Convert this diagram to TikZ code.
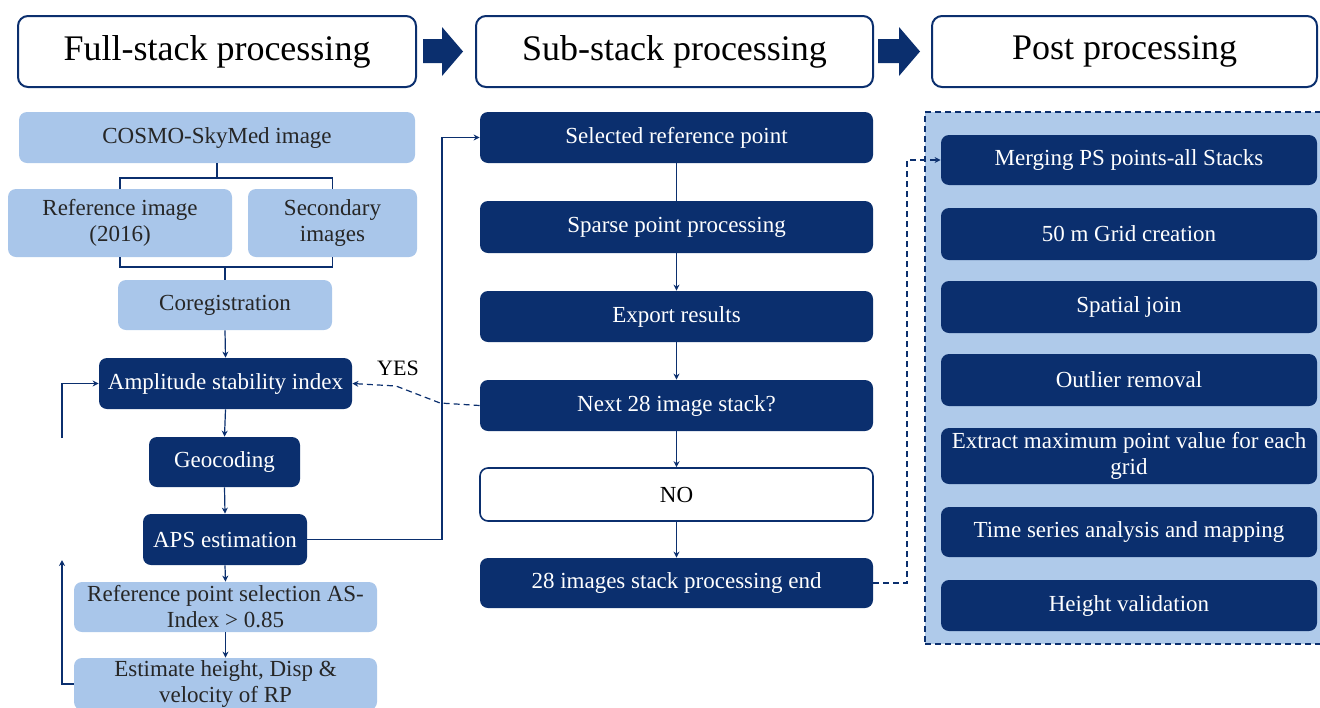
\documentclass[tikz,border=0pt]{standalone}
\usepackage{fontspec}
\setmainfont{Liberation Serif}
\usetikzlibrary{arrows.meta}
\definecolor{navy}{HTML}{0B2F6E}
\definecolor{lblue}{HTML}{A9C6EA}
\definecolor{cblue}{HTML}{AFCAEA}
\begin{document}
\begin{tikzpicture}[x=0.5pt,y=-0.5pt,
  hdr/.style={draw=navy, line width=1pt, rounded corners=5pt, fill=white, font=\fontsize{18}{22}\selectfont, minimum height=35.5pt, inner sep=0pt},
  lbox/.style={fill=lblue, rounded corners=4pt, font=\fontsize{11.5}{13}\selectfont, text=black!85, align=center, inner sep=0pt},
  dbox/.style={fill=navy, rounded corners=4pt, font=\fontsize{11.5}{13}\selectfont, text=white, align=center, inner sep=0pt},
  wbox/.style={draw=navy, line width=0.8pt, fill=white, rounded corners=4pt, font=\fontsize{11.5}{13}\selectfont, text=black, align=center, inner sep=0pt},
  conn/.style={draw=navy, line width=0.6pt},
  arr/.style={conn, -{Stealth[length=3pt,width=3pt]}},
  dsh/.style={conn, dash pattern=on 3pt off 2pt},
  barrow/.style={fill=navy, draw=none}
]
\useasboundingbox (0,0) rectangle (1320,707);
\clip (0,0) rectangle (1320,707);

% headers
\node[hdr, minimum width=199pt] (h1) at (217,51.5) {Full-stack processing};
\node[hdr, minimum width=198.5pt] (h2) at (674.5,51.5) {Sub-stack processing};
\node[hdr, minimum width=192.5pt] (h3) at (1124.5,51.5) {Post processing};
\fill[barrow] (423,39) -- (442,39) -- (442,27) -- (463,51.5) -- (442,76) -- (442,63) -- (423,63) -- cycle;
\fill[barrow] (878,39) -- (899,39) -- (899,27) -- (920,51.5) -- (899,76) -- (899,63) -- (878,63) -- cycle;

% left column
\node[lbox, minimum width=198pt, minimum height=25.5pt] (cosmo) at (217,137.5) {COSMO-SkyMed image};
\node[lbox, minimum width=112pt, minimum height=34pt] (refimg) at (120,223) {Reference image\\(2016)};
\node[lbox, minimum width=84.5pt, minimum height=34pt] (secimg) at (332.5,223) {Secondary\\images};
\node[lbox, minimum width=107pt, minimum height=25pt] (coreg) at (225,305) {Coregistration};
\node[dbox, minimum width=126.5pt, minimum height=25.5pt] (amp) at (225.5,383.5) {Amplitude stability index};
\node[dbox, minimum width=75.5pt, minimum height=25pt] (geo) at (224.5,462) {Geocoding};
\node[dbox, minimum width=82pt, minimum height=25.5pt] (aps) at (225,539.5) {APS estimation};
\node[lbox, minimum width=151.5pt, minimum height=25pt] (rps) at (225.5,607) {Reference point selection AS-\\Index > 0.85};
\node[lbox, minimum width=151.5pt, minimum height=26pt] (est) at (225.5,684) {Estimate height, Disp \&\\velocity of RP};

\coordinate (b1) at (0,178);
\coordinate (b2) at (0,267);
\draw[conn] (cosmo.south) -- (cosmo.south |- b1);
\draw[conn] (refimg.north) -- (refimg.north |- b1) -- (secimg.north |- b1) -- (secimg.north);
\draw[conn] (refimg.south) -- (refimg.south |- b2) -- (secimg.south |- b2) -- (secimg.south);
\draw[conn] (coreg.north |- b2) -- (coreg.north);
\draw[arr] (coreg.south) -- (amp.north);
\draw[arr] (amp.south) -- (geo.north);
\draw[arr] (geo.south) -- (aps.north);
\draw[arr] (aps.south) -- (rps.north);
\draw[arr] (rps.south) -- (est.north);
\coordinate (fb1) at (62,560);
\coordinate (fb2) at (62,438);
\draw[arr] (est.west) -| (fb1);
\draw[arr] (fb2) |- (amp.west);

% middle column
\node[dbox, minimum width=196.5pt, minimum height=25.5pt] (sel) at (676.5,137.5) {Selected reference point};
\node[dbox, minimum width=196.5pt, minimum height=26pt] (sparse) at (676.5,227) {Sparse point processing};
\node[dbox, minimum width=196.5pt, minimum height=25.5pt] (export) at (676.5,316.5) {Export results};
\node[dbox, minimum width=196.5pt, minimum height=25.5pt] (next) at (676.5,405.5) {Next 28 image stack?};
\node[wbox, minimum width=196.5pt, minimum height=26.5pt] (no) at (676.5,494.5) {NO};
\node[dbox, minimum width=196.5pt, minimum height=25pt] (end) at (676.5,583) {28 images stack processing end};

\draw[conn] (sel.south) -- (sparse.north);
\draw[arr] (sparse.south) -- (export.north);
\draw[arr] (export.south) -- (next.north);
\draw[arr] (next.south) -- (no.north);
\draw[arr] (no.south) -- (end.north);

\coordinate (j1) at (442,300);
\draw[arr] (aps.east) -| (j1) |- (sel.west);

\coordinate (y1) at (440,403);
\coordinate (y2) at (396,386);
\draw[dsh, -{Stealth[length=3pt,width=3pt]}] (next.west) -- (y1) -- (y2) -- (amp.east);
\node[font=\fontsize{11}{13}\selectfont, text=black] (yes) at (398,368) {YES};

% right column
\node[draw=navy, line width=0.6pt, dash pattern=on 3pt off 2pt, fill=cblue, minimum width=198.5pt, minimum height=266pt, inner sep=0pt] (cont) at (1123.5,378) {};
\node[dbox, minimum width=188pt, minimum height=25pt] (merge) at (1129,160) {Merging PS points-all Stacks};
\node[dbox, minimum width=188pt, minimum height=26pt] (grid) at (1129,234) {50 m Grid creation};
\node[dbox, minimum width=188pt, minimum height=26pt] (join) at (1129,307) {Spatial join};
\node[dbox, minimum width=188pt, minimum height=26pt] (outl) at (1129,380) {Outlier removal};
\node[dbox, minimum width=188pt, minimum height=28pt] (extr) at (1129,456) {Extract maximum point value for each\\grid};
\node[dbox, minimum width=188pt, minimum height=25pt] (time) at (1129,532) {Time series analysis and mapping};
\node[dbox, minimum width=188pt, minimum height=25.5pt] (hval) at (1129,605.5) {Height validation};

\coordinate (j2) at (907,400);
\draw[dsh, -{Stealth[length=3pt,width=3pt]}] (end.east) -| (j2) |- (merge.west);
\end{tikzpicture}
\end{document}
